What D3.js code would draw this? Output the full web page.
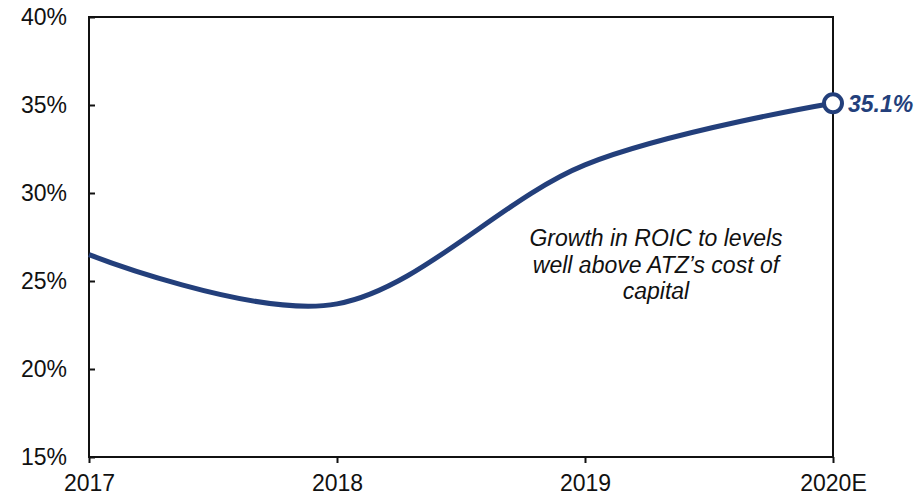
<!DOCTYPE html>
<html>
<head>
<meta charset="utf-8">
<script src="https://cdn.jsdelivr.net/npm/d3@7"></script>
<style>
  html, body { margin: 0; padding: 0; background: #fff; }
  svg { display: block; font-family: "Liberation Sans", Arial, sans-serif; }
</style>
</head>
<body>
<svg id="chart" width="921" height="497"></svg>
<script>
// ROIC by year
const years = ["2017", "2018", "2019", "2020E"];
const roic = [26.5, 23.7, 31.6, 35.1];
const yTicks = [15, 20, 25, 30, 35, 40];
const noteLines = ["Growth in ROIC to levels", "well above ATZ\u2019s cost of", "capital"];
const endLabel = "35.1%";

const margin = { top: 17, left: 89, right: 88, bottom: 40 };
const W = 921, H = 497;
const navy = "#233f7b";

const svg = d3.select("#chart");

const x = d3.scalePoint().domain(years).range([margin.left, W - margin.right]).padding(0);
const y = d3.scaleLinear().domain([15, 40]).range([H - margin.bottom, margin.top]);

const x0 = x.range()[0], x1 = x.range()[1];
const yTop = y(40), yBot = y(15);

// plot frame
svg.append("rect")
  .attr("x", x0).attr("y", yTop)
  .attr("width", x1 - x0).attr("height", yBot - yTop)
  .attr("fill", "none").attr("stroke", "#111").attr("stroke-width", 2);

// y axis: inward ticks, percent labels
const yAxis = svg.append("g").attr("transform", `translate(${x0},0)`)
  .call(d3.axisRight(y).tickValues(yTicks).tickSize(6).tickFormat(""));
yAxis.select(".domain").remove();
yAxis.selectAll("line").attr("stroke", "#111").attr("stroke-width", 2);

svg.append("g").selectAll("text").data(yTicks).join("text")
  .attr("x", x0 - 22).attr("y", d => y(d))
  .attr("dy", "0.36em")
  .attr("text-anchor", "end")
  .attr("font-size", 23).attr("fill", "#111")
  .text(d => d + "%");

// x axis: outward ticks
const xAxis = svg.append("g").attr("transform", `translate(0,${yBot})`)
  .call(d3.axisBottom(x).tickSize(6).tickSizeOuter(0).tickPadding(12));
xAxis.select(".domain").remove();
xAxis.selectAll("line").attr("stroke", "#111").attr("stroke-width", 2);
xAxis.selectAll("text")
  .attr("font-size", 23).attr("fill", "#111")
  .attr("font-family", "Liberation Sans, Arial, sans-serif");

// smoothed ROIC line
const line = d3.line()
  .x((d, i) => x(years[i]))
  .y(d => y(d))
  .curve(d3.curveCardinal.tension(0));

svg.append("path")
  .datum(roic)
  .attr("d", line)
  .attr("fill", "none")
  .attr("stroke", navy)
  .attr("stroke-width", 5)
  .attr("stroke-linecap", "butt");

// end point marker and value label
const last = roic.length - 1;
svg.append("circle")
  .attr("cx", x(years[last])).attr("cy", y(roic[last]))
  .attr("r", 9)
  .attr("fill", "#fff").attr("stroke", navy).attr("stroke-width", 4);

svg.append("text")
  .attr("x", x(years[last]) + 15).attr("y", y(roic[last]))
  .attr("dy", "0.36em")
  .attr("font-size", 23).attr("font-weight", "bold").attr("font-style", "italic")
  .attr("fill", navy)
  .text(endLabel);

// annotation
svg.append("text")
  .attr("x", 656).attr("y", 246)
  .attr("text-anchor", "middle")
  .attr("font-size", 23).attr("font-style", "italic").attr("fill", "#111")
  .selectAll("tspan").data(noteLines).join("tspan")
  .attr("x", 656)
  .attr("dy", (d, i) => i === 0 ? 0 : 26.5)
  .text(d => d);
</script>
</body>
</html>
